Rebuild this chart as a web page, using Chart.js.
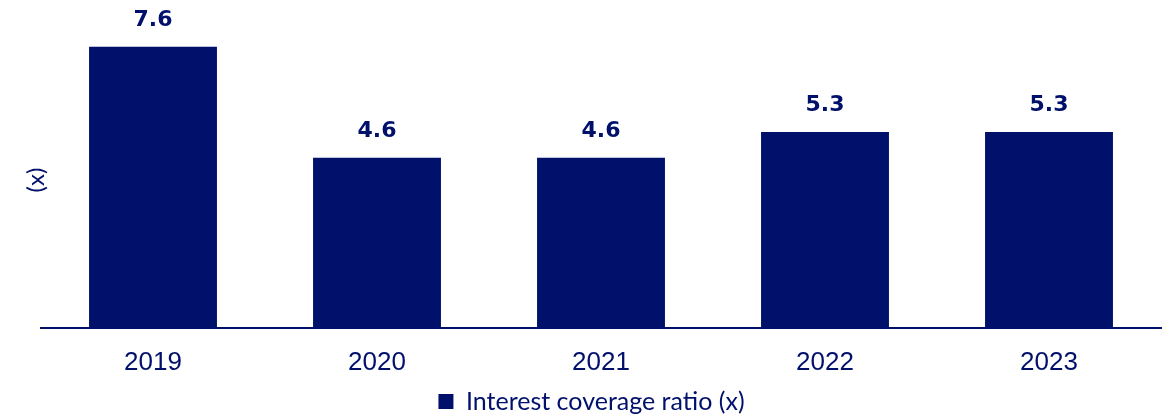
<!DOCTYPE html>
<html>
<head>
<meta charset="utf-8">
<script src="https://cdn.jsdelivr.net/npm/chart.js@4"></script>
<style>
html,body{margin:0;padding:0;background:#fff;}
#wrap{width:1171px;height:415px;position:relative;}
</style>
</head>
<body>
<div id="wrap"><canvas id="c" width="1171" height="415"></canvas></div>
<script>
const categories = ['2019', '2020', '2021', '2022', '2023'];
const coverageValues = [7.6, 4.6, 4.6, 5.3, 5.3];
const seriesName = 'Interest coverage ratio (x)';
const yAxisTitle = '(x)';

const NAVY = '#00106B';

const valueLabels = {
  id: 'valueLabels',
  afterDatasetsDraw(chart) {
    const ctx = chart.ctx;
    const meta = chart.getDatasetMeta(0);
    ctx.save();
    ctx.fillStyle = NAVY;
    ctx.font = 'bold 22px "DejaVu Sans", sans-serif';
    ctx.textAlign = 'center';
    ctx.textBaseline = 'middle';
    meta.data.forEach((bar, i) => {
      ctx.fillText(coverageValues[i].toFixed(1), bar.x, bar.y - 27);
    });
    ctx.restore();
  }
};

const legendShift = {
  id: 'legendShift',
  afterLayout(chart) {
    if (chart.legend) {
      chart.legend.left += 11;
      chart.legend.right += 11;
    }
  }
};

new Chart(document.getElementById('c'), {
  type: 'bar',
  data: {
    labels: categories,
    datasets: [{
      label: seriesName,
      data: coverageValues,
      backgroundColor: NAVY,
      borderWidth: 0,
      categoryPercentage: 1,
      barPercentage: 0.571
    }]
  },
  options: {
    responsive: false,
    animation: false,
    layout: { padding: { top: 32, right: 10, left: 0, bottom: -9 } },
    plugins: {
      legend: {
        position: 'bottom',
        labels: {
          boxWidth: 15, boxHeight: 15,
          color: NAVY,
          font: { family: 'Lato, "Open Sans", sans-serif', size: 25 },
          padding: 0
        }
      },
      tooltip: { enabled: false }
    },
    scales: {
      x: {
        grid: { display: false, drawTicks: false },
        border: { display: true, color: NAVY, width: 2 },
        ticks: { color: NAVY, font: { family: '"Liberation Sans", Arial, sans-serif', size: 26 }, padding: 19 },
        afterFit(scale) { scale.height = 61; }
      },
      y: {
        min: 0, max: 8,
        grid: { display: false, drawTicks: false },
        border: { display: false },
        ticks: { display: false },
        title: { display: true, text: yAxisTitle, color: NAVY, font: { family: 'Lato, "Open Sans", sans-serif', size: 24 }, padding: { top: 22, bottom: 0 } },
        afterFit(scale) { scale.width = 41; }
      }
    }
  },
  plugins: [valueLabels, legendShift]
});
</script>
</body>
</html>
